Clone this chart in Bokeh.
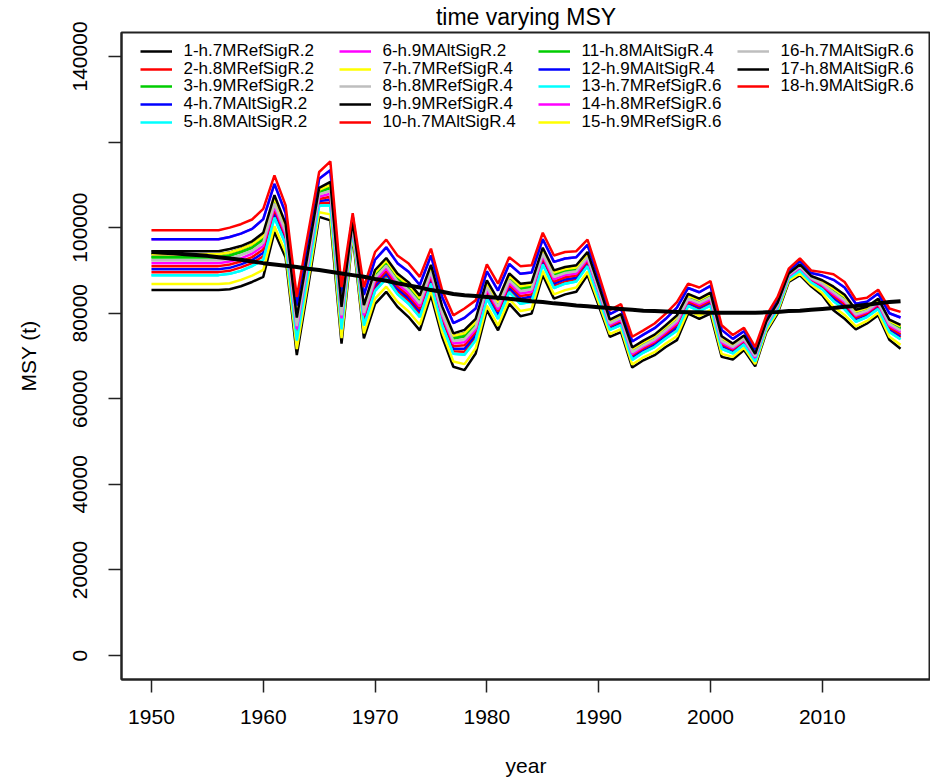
from bokeh.plotting import figure
from bokeh.models import Range1d, FixedTicker, Legend, LegendItem
from bokeh.embed import file_html
from bokeh.resources import INLINE

# ---------------- data (MSY in thousand tonnes) ----------------
years = list(range(1950, 2018))
UNIT = 1000

series_names = [
    "1-h.7MRefSigR.2", "2-h.8MRefSigR.2", "3-h.9MRefSigR.2", "4-h.7MAltSigR.2",
    "5-h.8MAltSigR.2", "6-h.9MAltSigR.2", "7-h.7MRefSigR.4", "8-h.8MRefSigR.4",
    "9-h.9MRefSigR.4", "10-h.7MAltSigR.4", "11-h.8MAltSigR.4", "12-h.9MAltSigR.4",
    "13-h.7MRefSigR.6", "14-h.8MRefSigR.6", "15-h.9MRefSigR.6", "16-h.7MAltSigR.6",
    "17-h.8MAltSigR.6", "18-h.9MAltSigR.6",
]
series_colors = [
    "#000000", "#FF0000", "#00CD00", "#0000FF", "#00FFFF", "#FF00FF", "#FFFF00", "#BEBEBE",
    "#000000", "#FF0000", "#00CD00", "#0000FF", "#00FFFF", "#FF00FF", "#FFFF00", "#BEBEBE",
    "#000000", "#FF0000",
]

msy_01 = [85.4,85.4,85.4,85.4,85.4,85.4,85.4,85.6,86.3,87.3,88.5,99.0,93.0,70.2,86.0,102.5,101.7,72.9,98.2,74.1,82.2,85.0,81.5,79.1,76.0,84.2,74.5,67.5,66.7,70.6,80.7,76.0,82.2,79.3,79.9,88.9,83.4,84.4,85.0,88.9,81.8,74.5,75.6,67.3,69.0,70.2,72.1,73.7,79.9,78.7,79.9,69.8,69.2,71.4,67.6,75.6,79.9,87.3,88.9,86.3,84.2,80.7,78.7,76.2,77.6,79.5,73.8,71.7]
msy_02 = [89.6,89.6,89.6,89.6,89.6,89.6,89.6,89.9,90.7,91.7,93.3,103.0,96.7,74.3,89.8,105.7,105.8,76.9,99.8,77.7,85.8,88.7,85.1,82.9,79.8,87.5,77.8,71.1,71.0,74.3,83.9,79.3,85.5,82.8,83.3,91.9,86.4,87.4,87.9,91.4,84.0,76.4,77.6,69.5,71.1,72.4,74.4,76.4,82.0,80.9,82.2,72.0,70.9,73.0,68.9,76.8,81.1,88.2,90.1,87.4,85.8,83.2,81.3,78.3,79.4,81.3,76.0,74.3]
msy_03 = [93.1,93.1,93.1,93.1,93.1,93.1,93.1,93.5,94.3,95.3,97.2,106.3,99.7,77.7,92.9,108.3,109.3,80.2,101.1,80.7,88.9,91.7,88.1,86.0,82.9,90.2,80.5,74.1,74.6,77.4,86.6,82.0,88.2,85.7,86.1,94.3,89.0,89.8,90.2,93.5,85.8,77.9,79.2,71.3,72.9,74.3,76.4,78.6,83.8,82.7,84.1,73.9,72.3,74.3,70.1,77.7,82.0,89.0,91.0,88.3,87.2,85.3,83.4,80.1,80.9,82.8,77.8,76.4]
msy_04 = [90.3,90.3,90.3,90.3,90.3,90.3,90.3,90.6,91.4,92.4,94.1,103.6,97.3,75.0,90.4,106.2,106.5,77.5,100.0,78.3,86.4,89.3,85.7,83.5,80.4,88.0,78.3,71.7,71.7,74.9,84.4,79.8,86.0,83.4,83.9,92.4,86.9,87.9,88.3,91.8,84.4,76.7,77.9,69.8,71.5,72.8,74.8,76.8,82.4,81.3,82.6,72.4,71.2,73.2,69.2,77.0,81.3,88.4,90.3,87.6,86.1,83.6,81.7,78.7,79.7,81.6,76.4,74.7]
msy_05 = [88.9,88.9,88.9,88.9,88.9,88.9,88.9,89.2,89.9,91.0,92.5,102.3,96.1,73.6,89.1,105.1,105.2,76.2,99.5,77.1,85.2,88.1,84.5,82.2,79.1,86.9,77.2,70.5,70.3,73.7,83.4,78.7,84.9,82.2,82.7,91.4,85.9,86.9,87.4,91.0,83.6,76.1,77.2,69.1,70.8,72.1,74.1,75.9,81.7,80.5,81.8,71.7,70.6,72.7,68.7,76.6,80.9,88.1,89.9,87.2,85.6,82.8,80.9,78.0,79.1,81.0,75.6,73.9]
msy_06 = [97.3,97.3,97.3,97.3,97.3,97.3,97.3,97.8,98.6,99.7,102.0,110.2,103.4,81.8,96.6,111.4,113.4,84.1,102.6,84.3,92.5,95.4,91.7,89.7,86.6,93.5,83.8,77.7,78.9,81.1,89.8,85.3,91.5,89.2,89.5,97.3,92.0,92.8,93.1,96.0,88.0,79.8,81.1,73.4,75.0,76.5,78.7,81.3,85.9,84.9,86.4,76.1,74.0,75.8,71.4,78.9,83.2,89.9,92.2,89.4,88.8,87.8,86.0,82.2,82.7,84.6,80.0,79.0]
msy_07 = [86.8,86.8,86.8,86.8,86.8,86.8,86.8,87.0,87.8,88.8,90.1,100.3,94.2,71.6,87.3,103.6,103.1,74.2,98.7,75.3,83.4,86.2,82.7,80.4,77.3,85.3,75.6,68.7,68.1,71.8,81.8,77.1,83.3,80.5,81.0,89.9,84.4,85.4,86.0,89.7,82.5,75.1,76.3,68.0,69.7,70.9,72.9,74.6,80.6,79.4,80.7,70.5,69.8,71.9,68.1,76.0,80.3,87.6,89.3,86.7,84.7,81.5,79.6,76.9,78.2,80.1,74.5,72.6]
msy_08 = [92.4,92.4,92.4,92.4,92.4,92.4,92.4,92.8,93.6,94.6,96.5,105.6,99.1,77.0,92.3,107.8,108.6,79.5,100.8,80.1,88.3,91.1,87.5,85.4,82.3,89.7,80.0,73.5,73.9,76.8,86.1,81.5,87.7,85.2,85.6,93.9,88.5,89.4,89.8,93.1,85.5,77.6,78.9,70.9,72.5,73.9,76.0,78.2,83.4,82.4,83.7,73.5,72.1,74.0,69.9,77.6,81.9,88.9,90.9,88.2,86.9,84.9,83.0,79.7,80.6,82.5,77.5,76.0]
msy_09 = [93.8,93.8,93.8,93.8,93.8,93.8,93.8,94.2,95.0,96.1,98.0,106.9,100.3,78.4,93.5,108.8,110.0,80.8,101.3,81.3,89.5,92.3,88.7,86.6,83.5,90.7,81.0,74.7,75.3,78.0,87.1,82.5,88.7,86.3,86.7,94.8,89.5,90.3,90.7,93.9,86.2,78.2,79.5,71.6,73.2,74.6,76.8,79.0,84.1,83.1,84.5,74.2,72.6,74.5,70.3,77.9,82.2,89.2,91.2,88.5,87.4,85.7,83.9,80.4,81.2,83.1,78.2,76.9]
msy_10 = [91.0,91.0,91.0,91.0,91.0,91.0,91.0,91.4,92.1,93.1,94.9,104.3,97.9,75.6,91.0,106.7,107.2,78.2,100.3,78.9,87.0,89.9,86.3,84.1,81.0,88.6,78.9,72.3,72.5,75.6,85.0,80.4,86.6,84.0,84.4,92.9,87.4,88.4,88.8,92.2,84.7,77.0,78.2,70.2,71.8,73.2,75.2,77.3,82.7,81.6,82.9,72.8,71.5,73.5,69.4,77.2,81.5,88.5,90.5,87.8,86.4,84.1,82.1,79.0,80.0,81.9,76.7,75.1]
msy_11 = [93.1,93.1,93.1,93.1,93.1,93.1,93.1,93.5,94.3,95.3,97.2,106.3,99.7,77.7,92.9,108.3,109.3,80.2,101.1,80.7,88.9,91.7,88.1,86.0,82.9,90.2,80.5,74.1,74.6,77.4,86.6,82.0,88.2,85.7,86.1,94.3,89.0,89.8,90.2,93.5,85.8,77.9,79.2,71.3,72.9,74.3,76.4,78.6,83.8,82.7,84.1,73.9,72.3,74.3,70.1,77.7,82.0,89.0,91.0,88.3,87.2,85.3,83.4,80.1,80.9,82.8,77.8,76.4]
msy_12 = [97.3,97.3,97.3,97.3,97.3,97.3,97.3,97.8,98.6,99.7,102.0,110.2,103.4,81.8,96.6,111.4,113.4,84.1,102.6,84.3,92.5,95.4,91.7,89.7,86.6,93.5,83.8,77.7,78.9,81.1,89.8,85.3,91.5,89.2,89.5,97.3,92.0,92.8,93.1,96.0,88.0,79.8,81.1,73.4,75.0,76.5,78.7,81.3,85.9,84.9,86.4,76.1,74.0,75.8,71.4,78.9,83.2,89.9,92.2,89.4,88.8,87.8,86.0,82.2,82.7,84.6,80.0,79.0]
msy_13 = [88.9,88.9,88.9,88.9,88.9,88.9,88.9,89.2,89.9,91.0,92.5,102.3,96.1,73.6,89.1,105.1,105.2,76.2,99.5,77.1,85.2,88.1,84.5,82.2,79.1,86.9,77.2,70.5,70.3,73.7,83.4,78.7,84.9,82.2,82.7,91.4,85.9,86.9,87.4,91.0,83.6,76.1,77.2,69.1,70.8,72.1,74.1,75.9,81.7,80.5,81.8,71.7,70.6,72.7,68.7,76.6,80.9,88.1,89.9,87.2,85.6,82.8,80.9,78.0,79.1,81.0,75.6,73.9]
msy_14 = [91.7,91.7,91.7,91.7,91.7,91.7,91.7,92.1,92.8,93.9,95.7,104.9,98.5,76.3,91.6,107.2,107.9,78.8,100.5,79.5,87.6,90.5,86.9,84.7,81.6,89.1,79.4,72.9,73.2,76.2,85.5,80.9,87.1,84.6,85.0,93.4,87.9,88.9,89.3,92.6,85.1,77.3,78.5,70.5,72.2,73.5,75.6,77.7,83.1,82.0,83.3,73.1,71.8,73.7,69.6,77.4,81.7,88.7,90.7,88.0,86.6,84.5,82.6,79.4,80.3,82.2,77.1,75.6]
msy_15 = [93.8,93.8,93.8,93.8,93.8,93.8,93.8,94.2,95.0,96.1,98.0,106.9,100.3,78.4,93.5,108.8,110.0,80.8,101.3,81.3,89.5,92.3,88.7,86.6,83.5,90.7,81.0,74.7,75.3,78.0,87.1,82.5,88.7,86.3,86.7,94.8,89.5,90.3,90.7,93.9,86.2,78.2,79.5,71.6,73.2,74.6,76.8,79.0,84.1,83.1,84.5,74.2,72.6,74.5,70.3,77.9,82.2,89.2,91.2,88.5,87.4,85.7,83.9,80.4,81.2,83.1,78.2,76.9]
msy_16 = [92.4,92.4,92.4,92.4,92.4,92.4,92.4,92.8,93.6,94.6,96.5,105.6,99.1,77.0,92.3,107.8,108.6,79.5,100.8,80.1,88.3,91.1,87.5,85.4,82.3,89.7,80.0,73.5,73.9,76.8,86.1,81.5,87.7,85.2,85.6,93.9,88.5,89.4,89.8,93.1,85.5,77.6,78.9,70.9,72.5,73.9,76.0,78.2,83.4,82.4,83.7,73.5,72.1,74.0,69.9,77.6,81.9,88.9,90.9,88.2,86.9,84.9,83.0,79.7,80.6,82.5,77.5,76.0]
msy_17 = [94.5,94.5,94.5,94.5,94.5,94.5,94.5,95.0,95.7,96.8,98.8,107.6,100.9,79.0,94.1,109.3,110.7,81.5,101.6,81.9,90.1,92.9,89.3,87.2,84.1,91.3,81.6,75.3,76.1,78.7,87.7,83.1,89.3,86.9,87.2,95.3,90.0,90.8,91.2,94.3,86.5,78.5,79.8,72.0,73.6,75.0,77.2,79.5,84.5,83.4,84.8,74.6,72.9,74.8,70.5,78.1,82.4,89.3,91.4,88.7,87.7,86.2,84.3,80.8,81.5,83.4,78.5,77.3]
msy_18 = [99.4,99.4,99.4,99.4,99.4,99.4,99.4,100.0,100.8,101.9,104.4,112.2,105.2,83.8,98.5,113.0,115.5,86.1,103.4,86.1,94.3,97.2,93.5,91.6,88.5,95.1,85.4,79.5,81.1,83.0,91.4,86.9,93.1,91.0,91.2,98.8,93.5,94.3,94.5,97.2,89.1,80.7,82.1,74.5,76.0,77.6,79.9,82.6,86.9,86.0,87.5,77.2,74.9,76.6,72.1,79.5,83.8,90.4,92.8,90.0,89.6,89.1,87.3,83.2,83.6,85.5,81.1,80.3]

# smooth trend (thick black line)
msy_trend = [94.3,94.1,94.0,93.8,93.6,93.4,93.1,92.8,92.5,92.1,91.7,91.4,91.1,90.8,90.4,90.1,89.7,89.3,88.9,88.5,88.0,87.6,87.0,86.5,86.0,85.4,85.0,84.5,84.2,84.0,83.8,83.6,83.4,83.1,82.8,82.6,82.3,82.1,81.8,81.6,81.4,81.2,81.0,80.8,80.6,80.5,80.4,80.3,80.2,80.2,80.1,80.1,80.1,80.1,80.1,80.2,80.3,80.5,80.6,80.8,81.0,81.2,81.5,81.7,82.0,82.3,82.6,82.8]

all_series = [msy_01, msy_02, msy_03, msy_04, msy_05, msy_06, msy_07, msy_08, msy_09,
              msy_10, msy_11, msy_12, msy_13, msy_14, msy_15, msy_16, msy_17, msy_18]

x_ticks = [1950, 1960, 1970, 1980, 1990, 2000, 2010]
y_ticks = [0, 20000, 40000, 60000, 80000, 100000, 120000, 140000]
y_tick_labels = ["0", "20000", "40000", "60000", "80000", "100000", "", "140000"]
title_text = "time varying MSY"

# ---------------- figure ----------------
FONT = "Liberation Sans"
W, H = 930, 781
BL, BR, BT, BB = 121, 0, 32, 102
FRAME_H = H - BT - BB

p = figure(width=W, height=H, output_backend="svg", toolbar_location=None,
           x_range=Range1d(1947.32, 2019.68), y_range=Range1d(-5600, 145600),
           min_border_left=BL, min_border_right=BR, min_border_top=BT, min_border_bottom=BB,
           title=title_text)
p.grid.visible = False
p.outline_line_color = "#222222"
p.outline_line_width = 2
p.background_fill_color = "white"
p.border_fill_color = "white"

p.title.align = "center"
p.title.vertical_align = "top"
p.title.standoff = 2
p.title.text_font = FONT
p.title.text_font_size = "23px"
p.title.text_font_style = "normal"
p.title.text_color = "black"

for ax in (p.xaxis[0], p.yaxis[0]):
    ax.axis_line_color = "#222222"
    ax.axis_line_width = 2
    ax.major_tick_line_color = "#222222"
    ax.major_tick_line_width = 1.5
    ax.major_tick_in = 0
    ax.major_tick_out = 13
    ax.minor_tick_line_color = None
    ax.major_label_text_font = FONT
    ax.major_label_text_font_size = "21px"
    ax.major_label_text_color = "black"
    ax.axis_label_text_font = FONT
    ax.axis_label_text_font_size = "21px"
    ax.axis_label_text_font_style = "normal"
    ax.axis_label_text_color = "black"

p.xaxis.ticker = FixedTicker(ticks=x_ticks)
p.xaxis.axis_label = "year"
p.xaxis.major_label_standoff = 17
p.xaxis.axis_label_standoff = 27

p.yaxis.ticker = FixedTicker(ticks=y_ticks)
p.yaxis.major_label_overrides = {t: lab for t, lab in zip(y_ticks, y_tick_labels)}
p.yaxis.major_label_orientation = "vertical"
p.yaxis.major_label_standoff = 21
p.yaxis.axis_label = "MSY (t)"
p.yaxis.axis_label_standoff = 31

renderers = []
for vals, col in zip(all_series, series_colors):
    r = p.line(years, [v * UNIT for v in vals], line_color=col, line_width=2.5)
    renderers.append(r)

p.line(years, [v * UNIT for v in msy_trend], line_color="black", line_width=4)

# legend: 4 columns x 5 rows, one single-item legend per entry for exact placement
ITEM_H = 22          # fixed item box height (larger than the text)
ROW_STEP = 17.8      # row pitch
FIRST_ROW = 18.7     # first row centre below the frame top
COL_X = 18.5         # first column glyph start from frame left
COL_STEP = 199
for i, name in enumerate(series_names):
    col, row = divmod(i, 5)
    centre_from_top = FIRST_ROW + row * ROW_STEP
    loc_y = FRAME_H - centre_from_top - ITEM_H / 2
    leg = Legend(items=[LegendItem(label=name, renderers=[renderers[i]])],
                 location=(COL_X + col * COL_STEP, loc_y),
                 orientation="vertical", padding=0, margin=0, spacing=0,
                 glyph_width=32, glyph_height=ITEM_H, label_height=ITEM_H,
                 label_standoff=12, border_line_alpha=0, background_fill_alpha=0,
                 label_text_font=FONT, label_text_font_size="17px",
                 label_text_color="black", label_text_baseline="middle")
    p.add_layout(leg, "center")

open("out.html", "w").write(file_html(p, INLINE))
